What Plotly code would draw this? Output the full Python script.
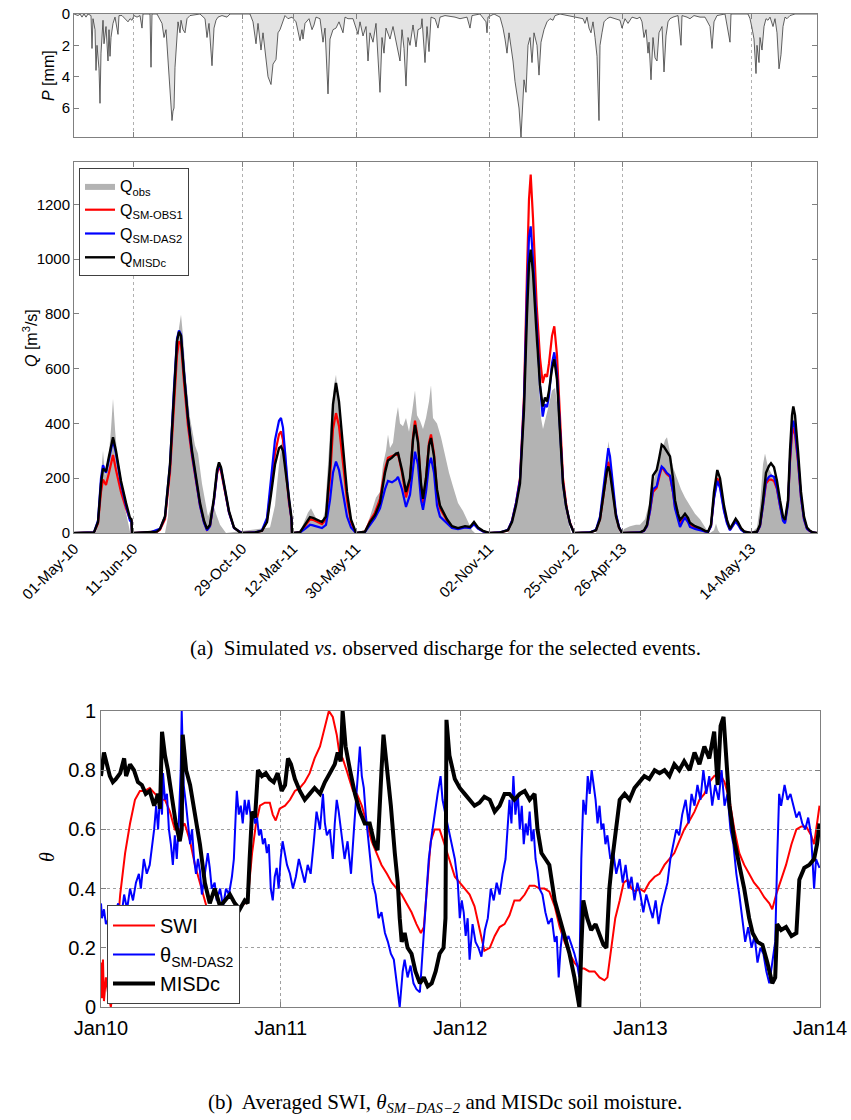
import plotly.graph_objects as go
import pandas as pd

# ---------------- Event axis (concatenated event time steps) ----------------
EVENT_STEP = [0, 59, 168, 219, 282, 415, 500, 548, 677]
EVENT_LABEL = ["01-May-10", "11-Jun-10", "29-Oct-10", "12-Mar-11", "30-May-11",
               "02-Nov-11", "25-Nov-12", "26-Apr-13", "14-May-13"]
N_STEP = 743

# ---------------- Precipitation [mm] ----------------
P_STEP = [0, 4, 6, 8, 10, 12, 14, 17, 18, 19, 21, 22, 23, 25, 26, 27, 29, 30, 32, 34, 35, 36, 37, 39, 41,
          44, 45, 48, 54, 56, 58, 60, 63, 66, 68, 69, 76, 77, 78, 83, 88, 90, 92, 94, 96, 98, 99, 100, 101,
          103, 104, 106, 107, 109, 111, 113, 116, 126, 131, 133, 135, 138, 140, 142, 144, 148, 153, 156, 176,
          179, 182, 184, 187, 189, 192, 194, 197, 199, 202, 204, 206, 209, 211, 214, 218, 222, 226, 228, 229,
          231, 235, 238, 240, 242, 246, 249, 251, 254, 256, 259, 262, 265, 269, 271, 274, 279, 282, 284, 286,
          289, 292, 294, 296, 299, 302, 304, 306, 308, 310, 312, 316, 319, 323, 326, 328, 330, 332, 334, 336,
          339, 342, 344, 347, 348, 351, 353, 355, 357, 361, 364, 366, 371, 381, 386, 393, 396, 398, 406, 412,
          413, 414, 420, 426, 429, 431, 433, 435, 437, 439, 441, 443, 445, 447, 448, 450, 452, 454, 456, 458,
          460, 463, 465, 467, 470, 473, 476, 479, 481, 486, 509, 511, 513, 515, 517, 519, 521, 523, 525, 526,
          528, 530, 533, 536, 546, 548, 551, 554, 558, 563, 566, 568, 570, 572, 574, 575, 577, 579, 581, 583,
          585, 588, 590, 592, 594, 596, 599, 604, 607, 608, 613, 616, 620, 626, 631, 636, 638, 640, 643, 651,
          656, 657, 674, 676, 678, 680, 682, 683, 685, 686, 688, 690, 692, 694, 696, 699, 701, 703, 705, 707,
          709, 711, 713, 716, 721, 743]
P_MM = [0, 0.1, 0, 0.2, 0, 0.2, 0, 0.1, 2.2, 0.3, 1.0, 3.6, 2.0, 3.5, 5.7, 2.5, 0.4, 1.9, 0.8, 3.0, 1.0, 2.7, 1.5, 0.6, 0.2,
        1.3, 0.1, 0.1, 0.5, 0.3, 0.4, 0.1, 0.2, 0.1, 0.9, 0, 0, 3.4, 0, 0, 0.6, 1.5, 1.0, 3.1, 5.1, 6.8, 6.2, 6.0, 3.4,
        1.5, 0.5, 1.2, 0.4, 1.0, 1.2, 0.3, 0.1, 0, 0.3, 1.5, 0.6, 3.3, 0.9, 0.4, 0.2, 0.1, 0.2, 0, 0,
        0.5, 1.9, 0.6, 2.3, 1.2, 3.0, 4.0, 4.5, 3.2, 2.9, 1.2, 1.0, 0.5, 0.1, 0.3, 0.2, 0.5, 1.7, 1.0, 1.6,
        0.6, 0.3, 1.0, 0.7, 0.2, 0.3, 1.8, 0.9, 5.1, 1.6, 1.0, 0.9, 0.5, 1.2, 0.2, 0.3, 0.3, 1.0, 1.3, 0.5,
        1.4, 0.8, 3.0, 1.2, 1.8, 0.6, 3.0, 5.0, 1.5, 2.5, 0.9, 1.6, 0.8, 2.0, 3.0, 1.0, 2.2, 4.6, 1.5, 2.0,
        0.7, 2.1, 1.0, 0.9, 0.3, 3.1, 0.8, 2.4, 0.2, 0.3, 0.9, 0.2, 0.1, 0.2, 0.3, 0.2, 0.9, 0.1, 0, 0.5,
        1.2, 0.2, 0, 0.2, 0.9, 1.6, 2.5, 1.2, 2.0, 3.0, 4.3, 5.3, 6.0, 7.85, 6.5, 4.2, 5.0, 2.0, 1.5, 3.1,
        1.2, 2.0, 3.9, 1.8, 1.0, 0.5, 0.3, 0.4, 0.1, 0, 0.3, 0.6, 0.2, 0.9, 1.2, 0.5, 1.5, 2.7, 6.8, 2.0,
        1.2, 0.5, 0.3, 0.2, 0.4, 0.9, 0.3, 0.6, 0.2, 0.3, 0.2, 0.5, 1.5, 1.0, 2.5, 1.8, 4.2, 1.5, 2.8, 3.0,
        1.2, 0.8, 3.7, 1.4, 0.5, 0.3, 0.2, 0.1, 2.0, 0.1, 0.2, 0.3, 0.1, 0.2, 0.2, 0.8, 2.2, 0.5, 0.1, 0,
        1.8, 0, 0, 0.3, 0.9, 1.6, 3.8, 2.0, 3.1, 1.5, 2.3, 0.8, 0.3, 0.4, 0.2, 0.8, 0.3, 1.2, 3.5, 2.6,
        0.8, 0.2, 0.3, 0.1, 0, 0]

# ---------------- Discharge [m3/s] ----------------
QOBS_STEP = [0, 22, 25, 27, 29, 31, 34, 37, 39, 41, 44, 47, 51, 54, 56, 57,
             91, 94, 98, 102, 105, 107, 109, 112, 116, 121, 124, 128, 132, 134, 137, 139, 142, 146, 152,
             196, 201, 205, 209, 212, 215, 217, 218,
             226, 230, 234, 237, 240, 244, 248, 251, 254, 257, 260, 262, 264, 267, 270, 273, 276, 279, 281,
             291, 296, 299, 302, 306, 309, 312, 314, 316, 319, 322, 324, 326, 329, 332, 335, 338, 341, 343,
             346, 349, 352, 355, 357, 359, 363, 367, 371, 375, 379, 384, 389, 394, 398, 401,
             434, 438, 442, 446, 450, 453, 455, 457, 459, 462, 465, 467, 469, 472, 475, 478, 481, 484, 487,
             490, 493, 495, 497,
             522, 526, 530, 533, 534.5, 536, 539, 542, 545, 546,
             548, 550, 556, 562, 566, 571, 576, 579, 583, 587, 591, 593, 596, 599, 603, 607, 611, 616, 621,
             626, 630, 634, 636, 640, 642, 644, 646,
             677, 683, 686, 689, 691, 694, 697, 700, 703, 706, 709, 711, 714, 716, 718, 719.5, 721, 724, 727,
             730, 733, 736, 743]
QOBS = [0, 0, 120, 200, 300, 210, 250, 380, 490, 380, 250, 160, 90, 40, 5, 0,
        0, 60, 300, 600, 750, 797, 720, 560, 420, 320, 290, 180, 100, 60, 90, 110, 70, 30, 0,
        20, 100, 250, 370, 300, 150, 40, 0,
        5, 40, 75, 90, 70, 40, 40, 80, 250, 420, 540, 578, 500, 380, 250, 130, 50, 10, 0,
        10, 60, 100, 130, 150, 250, 300, 360, 310, 330, 420, 460, 400, 390, 420, 370, 440, 520, 430,
        410, 380, 420, 480, 540, 420, 400, 350, 280, 220, 170, 110, 80, 40, 10, 0,
        0, 30, 90, 180, 450, 800, 960, 1000, 940, 700, 520, 420, 380, 420, 470, 520, 530, 450, 300,
        180, 80, 30, 0,
        0, 40, 160, 290, 335, 290, 150, 50, 5, 0,
        0, 15, 25, 30, 30, 50, 120, 180, 240, 290, 340, 350, 300, 240, 200, 160, 130, 100, 70,
        50, 25, 5, 0, 10, 35, 10, 0,
        0, 20, 100, 250, 290, 240, 220, 200, 170, 120, 60, 50, 140, 300, 400, 440, 400, 260, 120,
        40, 10, 0, 0]

Q_STEP = [0, 20, 24, 27, 29, 32, 35, 39, 42, 47, 52, 56, 57.5, 58, 59,
          76, 83, 86, 91, 96, 100, 103, 105, 107, 110, 114, 118, 122, 126, 130, 133, 136, 140, 143, 145,
          147, 151, 155, 160, 166, 168,
          181, 188, 193, 197, 201, 205, 207, 209, 212, 215, 217.5, 218, 219,
          226, 231, 236, 239, 244, 248, 252, 256, 259, 262, 265, 269, 273, 277, 280, 281, 282,
          291, 296, 301, 306, 311, 314, 318, 322, 324, 328, 332, 336, 339, 341, 344, 347, 349, 352, 355, 357,
          360, 363, 366, 369, 373, 378, 384, 391, 396, 400, 404, 409, 413, 415,
          426, 434, 438, 442, 446, 450, 453, 455, 456.7, 459, 462.7, 466, 468.7, 471, 473, 475, 478, 480.3,
          483, 486, 489, 492, 494, 496, 497.7, 499, 500,
          516, 522, 526, 530, 533, 534.3, 536, 539, 542, 545, 547, 548,
          566, 570, 573, 576, 579, 582.7, 585, 587.7, 590, 592.7, 596, 599, 601, 604, 606, 609, 611, 614,
          616, 621, 626, 631, 634, 637, 640, 643.3, 646, 650, 653, 656, 659, 661.7, 664, 667, 670, 674, 677,
          683, 686, 689, 692, 695, 697, 700, 703, 706, 709, 711, 714, 716, 718, 719.3, 721, 724, 727, 730,
          733, 736, 739, 743]
Q_MISDC = [0, 2, 40, 180, 235, 225, 280, 350, 300, 190, 110, 55, 50, 0, 0,
           2, 5, 15, 60, 250, 520, 700, 735, 720, 580, 420, 300, 200, 110, 45, 15, 30, 130, 230, 258,
           240, 160, 80, 20, 2, 0,
           2, 8, 40, 140, 250, 310, 316, 300, 210, 110, 55, 0, 0,
           3, 30, 58, 55, 45, 40, 60, 250, 470, 548, 480, 300, 150, 50, 15, 5, 0,
           5, 40, 65, 110, 220, 265, 275, 290, 292, 230, 150, 200, 340, 395, 330, 180, 125, 200, 320, 347,
           280, 160, 100, 80, 50, 25, 18, 25, 22, 40, 20, 8, 2, 0,
           2, 10, 40, 100, 180, 450, 800, 980, 1035, 950, 720, 540, 462, 495, 480, 520, 600, 634,
           560, 350, 180, 100, 60, 35, 20, 5, 0,
           2, 10, 50, 150, 230, 243, 220, 140, 60, 20, 3, 0,
           2, 10, 30, 100, 210, 230, 270, 322, 315, 300, 280, 200, 120, 70, 48, 60, 70, 55,
           37, 25, 18, 8, 5, 30, 150, 230, 200, 100, 48, 15, 35, 52, 40, 18, 6, 2, 0,
           5, 30, 120, 220, 245, 255, 240, 190, 120, 60, 48, 120, 300, 430, 462, 430, 300, 150, 60,
           20, 8, 2, 0]
Q_SMOBS1 = [0, 2, 35, 150, 195, 175, 220, 285, 230, 150, 90, 50, 45, 0, 0,
            2, 5, 12, 50, 220, 470, 650, 700, 690, 550, 390, 280, 185, 100, 40, 12, 25, 120, 215, 245,
            225, 150, 75, 18, 2, 0,
            2, 8, 45, 160, 290, 360, 371, 340, 230, 110, 50, 0, 0,
            3, 25, 50, 48, 38, 32, 50, 200, 380, 438, 390, 250, 120, 40, 10, 3, 0,
            5, 45, 75, 125, 235, 275, 280, 285, 290, 220, 130, 190, 350, 410, 340, 170, 110, 200, 330, 360,
            290, 150, 90, 70, 45, 22, 16, 22, 20, 35, 18, 6, 2, 0,
            2, 10, 45, 110, 200, 500, 950, 1220, 1309, 1150, 830, 640, 548, 580, 570, 620, 720, 755,
            650, 400, 200, 110, 65, 38, 22, 5, 0,
            2, 10, 50, 160, 245, 260, 235, 150, 65, 20, 3, 0,
            2, 8, 25, 80, 150, 165, 200, 240, 230, 215, 205, 150, 95, 55, 35, 50, 55, 45,
            30, 20, 15, 6, 4, 25, 130, 200, 175, 85, 40, 12, 30, 45, 35, 15, 5, 2, 0,
            4, 25, 100, 180, 195, 195, 190, 160, 100, 50, 40, 110, 260, 360, 385, 360, 260, 130, 50,
            15, 6, 2, 0]
Q_SMDAS2 = [0, 2, 45, 200, 248, 220, 270, 340, 290, 180, 100, 45, 40, 0, 0,
            2, 12, 15, 60, 250, 530, 710, 740, 725, 590, 420, 290, 190, 100, 38, 10, 25, 120, 220, 252,
            235, 155, 75, 18, 2, 0,
            2, 10, 55, 190, 340, 410, 420, 385, 260, 120, 50, 0, 0,
            2, 15, 30, 28, 22, 18, 30, 120, 220, 261, 230, 140, 60, 20, 6, 2, 0,
            4, 30, 55, 90, 160, 190, 185, 195, 205, 160, 95, 140, 250, 297, 250, 120, 85, 150, 250, 275,
            220, 100, 60, 50, 35, 18, 14, 20, 18, 32, 16, 6, 2, 0,
            2, 12, 45, 110, 195, 480, 880, 1080, 1120, 1000, 760, 540, 425, 470, 460, 500, 620, 660,
            580, 360, 180, 100, 60, 35, 20, 5, 0,
            2, 12, 60, 190, 290, 310, 280, 170, 70, 22, 3, 0,
            2, 8, 25, 80, 160, 170, 210, 243, 235, 220, 210, 150, 90, 50, 22, 45, 55, 40,
            22, 15, 10, 4, 3, 25, 125, 190, 165, 80, 35, 10, 28, 42, 30, 12, 4, 2, 0,
            4, 25, 100, 190, 205, 210, 205, 165, 100, 45, 35, 105, 270, 385, 410, 380, 270, 130, 50,
            15, 6, 2, 0]

# ---------------- Soil moisture (days since 2010-01-01) ----------------
START = "2010-01-01"
SWI_DAY = [0, 2, 4, 6, 10, 14, 20, 24, 30, 39, 49, 59, 69, 79, 89, 99, 110, 120, 130, 140, 150, 160, 170, 181,
           191, 201, 211, 221, 231, 242, 252, 262, 272, 282, 292, 298, 307, 315, 323, 333, 343, 349, 355, 363,
           374, 384, 394, 404, 414, 424, 434, 445, 455, 463, 471, 479, 485, 491, 499, 506, 512, 520, 530, 540,
           550, 560, 570, 581, 591, 601, 611, 621, 631, 641, 650, 656, 664, 670, 678, 688, 698, 708, 719, 729,
           739, 749, 759, 769, 779, 790, 800, 810, 820, 830, 840, 851, 861, 871, 881, 891, 901, 911, 922, 932,
           942, 952, 962, 972, 982, 992, 1003, 1013, 1023, 1029, 1037, 1045, 1054, 1062, 1070, 1078, 1086,
           1094, 1104, 1114, 1125, 1135, 1145, 1155, 1165, 1175, 1185, 1196, 1206, 1216, 1226, 1236, 1246,
           1257, 1267, 1277, 1287, 1297, 1307, 1317, 1327, 1337, 1348, 1358, 1364, 1372, 1382, 1392, 1403,
           1413, 1423, 1433, 1443, 1449, 1455, 1460]
SWI = [0.15, 0.03, 0.16, 0.02, 0.1, 0.05, 0.0, 0.05, 0.2, 0.38, 0.52, 0.62, 0.7, 0.73, 0.73, 0.74, 0.72, 0.7,
       0.7, 0.66, 0.6, 0.6, 0.62, 0.56, 0.48, 0.42, 0.36, 0.3, 0.3, 0.28, 0.3, 0.32, 0.33, 0.34, 0.35, 0.36,
       0.52, 0.62, 0.68, 0.69, 0.69, 0.65, 0.63, 0.67, 0.68, 0.7, 0.73, 0.74, 0.76, 0.79, 0.84, 0.88, 0.95,
       1.0, 0.98, 0.92, 0.85, 0.84, 0.8, 0.76, 0.73, 0.72, 0.68, 0.62, 0.56, 0.52, 0.48, 0.45, 0.42, 0.4,
       0.38, 0.35, 0.32, 0.28, 0.25, 0.27, 0.45, 0.56, 0.6, 0.6, 0.55, 0.5, 0.44, 0.42, 0.4, 0.38, 0.34,
       0.26, 0.19, 0.2, 0.24, 0.27, 0.28, 0.31, 0.36, 0.36, 0.38, 0.41, 0.41, 0.4, 0.4, 0.39, 0.34, 0.27,
       0.22, 0.18, 0.15, 0.13, 0.13, 0.12, 0.12, 0.1, 0.09, 0.1, 0.2, 0.3, 0.36, 0.42, 0.43, 0.4, 0.39,
       0.4, 0.39, 0.42, 0.44, 0.45, 0.48, 0.5, 0.52, 0.56, 0.6, 0.63, 0.66, 0.7, 0.72, 0.76, 0.78, 0.79,
       0.76, 0.7, 0.6, 0.52, 0.48, 0.45, 0.42, 0.4, 0.37, 0.35, 0.33, 0.38, 0.43, 0.48, 0.55, 0.6, 0.61,
       0.61, 0.58, 0.55, 0.62, 0.68]

DAS_DAY = [0, 2, 6, 10, 16, 22, 28, 35, 41, 47, 53, 59, 65, 71, 77, 81, 87, 93, 99, 104, 108, 112, 116, 120,
           124, 126, 130, 134, 138, 142, 146, 150, 154, 158, 162, 164, 168, 173, 177, 181, 185, 189, 193, 197,
           201, 205, 211, 217, 221, 225, 231, 235, 242, 248, 254, 260, 266, 270, 274, 276, 280, 284, 288, 292,
           296, 300, 305, 309, 313, 317, 321, 325, 329, 333, 337, 341, 345, 349, 353, 357, 361, 365, 369, 374,
           378, 384, 390, 396, 402, 408, 414, 420, 426, 432, 438, 445, 451, 455, 459, 465, 471, 475, 479, 483,
           487, 491, 495, 501, 508, 514, 520, 526, 530, 534, 538, 542, 546, 552, 558, 564, 570, 577, 583, 589,
           595, 601, 607, 613, 617, 623, 629, 635, 641, 648, 654, 660, 666, 672, 678, 684, 690, 694, 700, 706,
           713, 719, 725, 729, 733, 737, 741, 745, 749, 755, 761, 767, 773, 780, 786, 792, 798, 804, 810, 816,
           822, 826, 830, 834, 838, 842, 847, 851, 855, 859, 863, 867, 871, 875, 879, 883, 887, 891, 897, 903,
           909, 916, 922, 926, 930, 934, 938, 944, 950, 956, 962, 968, 972, 976, 980, 985, 989, 993, 997, 1001,
           1005, 1009, 1013, 1017, 1021, 1025, 1029, 1035, 1041, 1047, 1054, 1060, 1066, 1072, 1078, 1084,
           1090, 1096, 1102, 1108, 1114, 1121, 1127, 1133, 1139, 1145, 1151, 1157, 1163, 1169, 1175, 1181,
           1188, 1194, 1200, 1206, 1212, 1218, 1224, 1230, 1236, 1242, 1248, 1255, 1261, 1267, 1273, 1279,
           1285, 1291, 1297, 1303, 1309, 1315, 1322, 1328, 1334, 1340, 1346, 1352, 1358, 1364, 1370, 1374,
           1378, 1382, 1389, 1395, 1401, 1407, 1413, 1419, 1425, 1431, 1437, 1443, 1449, 1453, 1460]
THETA_DAS = [0.35, 0.3, 0.33, 0.28, 0.3, 0.27, 0.32, 0.35, 0.3, 0.38, 0.33, 0.4, 0.36, 0.42, 0.45, 0.4, 0.5,
             0.45, 0.48, 0.55, 0.6, 0.68, 0.6, 0.72, 0.65, 0.79, 0.7, 0.72, 0.6, 0.55, 0.48, 0.58, 0.5, 0.62,
             0.8, 1.0, 0.75, 0.68, 0.62, 0.55, 0.6, 0.5, 0.45, 0.5, 0.46, 0.38, 0.45, 0.52, 0.47, 0.4, 0.42,
             0.36, 0.4, 0.34, 0.4, 0.38, 0.44, 0.5, 0.66, 0.73, 0.65, 0.68, 0.62, 0.7, 0.65, 0.7, 0.63, 0.66,
             0.62, 0.64, 0.58, 0.6, 0.55, 0.57, 0.52, 0.55, 0.4, 0.36, 0.44, 0.47, 0.4, 0.5, 0.56, 0.52, 0.48,
             0.45, 0.4, 0.44, 0.5, 0.46, 0.42, 0.48, 0.45, 0.55, 0.66, 0.6, 0.72, 0.62, 0.58, 0.6, 0.5, 0.62,
             0.7, 0.66, 0.6, 0.55, 0.5, 0.56, 0.45, 0.6, 0.75, 0.88, 0.78, 0.74, 0.65, 0.58, 0.5, 0.42, 0.38,
             0.3, 0.32, 0.25, 0.22, 0.18, 0.16, 0.08, 0.0, 0.12, 0.16, 0.1, 0.14, 0.08, 0.06, 0.05, 0.2, 0.35,
             0.5, 0.58, 0.66, 0.72, 0.78, 0.7, 0.65, 0.6, 0.55, 0.5, 0.42, 0.3, 0.36, 0.32, 0.24, 0.3, 0.16,
             0.28, 0.22, 0.2, 0.17, 0.26, 0.3, 0.4, 0.36, 0.42, 0.38, 0.45, 0.5, 0.6, 0.7, 0.62, 0.78, 0.65,
             0.72, 0.6, 0.68, 0.55, 0.62, 0.58, 0.66, 0.56, 0.6, 0.5, 0.46, 0.4, 0.38, 0.32, 0.28, 0.3, 0.22,
             0.24, 0.1, 0.2, 0.26, 0.22, 0.24, 0.21, 0.18, 0.14, 0.1, 0.5, 0.7, 0.65, 0.78, 0.72, 0.8, 0.75,
             0.7, 0.62, 0.68, 0.6, 0.62, 0.55, 0.58, 0.5, 0.52, 0.45, 0.5, 0.42, 0.48, 0.4, 0.44, 0.36, 0.42,
             0.38, 0.32, 0.38, 0.34, 0.3, 0.36, 0.28, 0.34, 0.38, 0.42, 0.5, 0.55, 0.6, 0.58, 0.65, 0.7, 0.62,
             0.72, 0.68, 0.75, 0.7, 0.8, 0.72, 0.78, 0.68, 0.75, 0.7, 0.8, 0.68, 0.72, 0.6, 0.55, 0.45, 0.38,
             0.3, 0.22, 0.27, 0.2, 0.24, 0.15, 0.2, 0.18, 0.12, 0.08, 0.15, 0.22, 0.5, 0.72, 0.68, 0.75, 0.7,
             0.72, 0.68, 0.64, 0.66, 0.62, 0.6, 0.64, 0.58, 0.4, 0.5, 0.47]

MIS_DAY = [0, 2, 6, 12, 18, 24, 30, 39, 47, 51, 59, 67, 75, 83, 91, 99, 108, 116, 120, 124, 130, 136, 144, 152,
           160, 164, 166, 173, 181, 191, 201, 211, 221, 231, 242, 252, 262, 272, 282, 292, 298, 302, 307, 313,
           319, 327, 335, 343, 351, 359, 367, 374, 380, 386, 394, 404, 414, 424, 434, 445, 455, 465, 475, 481,
           487, 491, 497, 506, 516, 526, 536, 546, 556, 562, 566, 570, 574, 581, 589, 597, 603, 607, 611, 617,
           623, 631, 639, 648, 656, 664, 672, 680, 688, 696, 700, 702, 708, 719, 729, 739, 749, 759, 769, 779,
           790, 800, 810, 820, 830, 840, 851, 861, 871, 881, 887, 895, 903, 911, 922, 932, 942, 952, 962, 972,
           976, 980, 988, 996, 1005, 1013, 1021, 1027, 1033, 1039, 1047, 1054, 1064, 1074, 1084, 1094, 1104,
           1114, 1125, 1135, 1145, 1155, 1165, 1175, 1185, 1196, 1206, 1216, 1226, 1236, 1246, 1253, 1259, 1265,
           1271, 1277, 1287, 1297, 1307, 1317, 1324, 1334, 1344, 1354, 1364, 1370, 1374, 1382, 1392, 1403, 1413,
           1419, 1429, 1439, 1449, 1455, 1460]
MISDC = [0.78, 0.8, 0.86, 0.82, 0.78, 0.76, 0.77, 0.79, 0.84, 0.78, 0.82, 0.8, 0.76, 0.75, 0.72, 0.73, 0.68,
         0.72, 0.67, 0.93, 0.85, 0.8, 0.7, 0.62, 0.56, 0.6, 0.92, 0.8, 0.75, 0.65, 0.55, 0.42, 0.35, 0.4, 0.34,
         0.36, 0.38, 0.35, 0.33, 0.36, 0.35, 0.5, 0.66, 0.64, 0.8, 0.78, 0.79, 0.77, 0.76, 0.79, 0.73, 0.75,
         0.84, 0.82, 0.77, 0.73, 0.7, 0.72, 0.74, 0.72, 0.76, 0.79, 0.82, 0.86, 0.83, 1.0, 0.88, 0.8, 0.72,
         0.66, 0.62, 0.62, 0.55, 0.53, 0.7, 0.8, 0.92, 0.82, 0.68, 0.52, 0.42, 0.3, 0.22, 0.25, 0.2, 0.18, 0.12,
         0.08, 0.1, 0.07, 0.08, 0.12, 0.18, 0.2, 0.3, 0.97, 0.85, 0.77, 0.74, 0.72, 0.7, 0.68, 0.69, 0.71,
         0.7, 0.66, 0.68, 0.72, 0.72, 0.7, 0.72, 0.73, 0.7, 0.72, 0.6, 0.52, 0.5, 0.48, 0.36, 0.3, 0.24, 0.18,
         0.1, 0.0, 0.2, 0.36, 0.3, 0.26, 0.28, 0.24, 0.21, 0.2, 0.4, 0.5, 0.6, 0.7, 0.72, 0.7, 0.74, 0.76,
         0.78, 0.77, 0.8, 0.79, 0.8, 0.78, 0.82, 0.8, 0.83, 0.8, 0.86, 0.82, 0.88, 0.84, 0.93, 0.75, 0.95,
         0.98, 0.82, 0.68, 0.56, 0.48, 0.4, 0.3, 0.25, 0.22, 0.21, 0.15, 0.08, 0.1, 0.28, 0.26, 0.27, 0.24,
         0.25, 0.43, 0.47, 0.48, 0.5, 0.55, 0.62]

YEAR_TICKS = ["2010-01-01", "2011-01-01", "2012-01-01", "2013-01-01", "2014-01-01"]
YEAR_LABELS = ["Jan10", "Jan11", "Jan12", "Jan13", "Jan14"]


def to_dates(days):
    return pd.to_datetime(START) + pd.to_timedelta(days, unit="D")


SANS = "Liberation Sans, Arial, Helvetica, sans-serif"
SERIF = "Liberation Serif, Times New Roman, serif"
AX = "#808080"

fig = go.Figure()

# precipitation (top)
fig.add_trace(go.Scatter(x=P_STEP, y=P_MM, mode="lines", fill="tozeroy", fillcolor="#e3e3e3",
                         line=dict(color="#3a3a3a", width=0.8), showlegend=False,
                         xaxis="x", yaxis="y"))

# discharge (middle)
fig.add_trace(go.Scatter(x=QOBS_STEP, y=QOBS, mode="lines", fill="tozeroy", fillcolor="#b3b3b3",
                         line=dict(color="#b3b3b3", width=0), name="Q<sub>obs</sub>",
                         xaxis="x2", yaxis="y2", legend="legend"))
fig.add_trace(go.Scatter(x=Q_STEP, y=Q_SMOBS1, mode="lines", line=dict(color="#ff0000", width=2.2),
                         name="Q<sub>SM-OBS1</sub>", xaxis="x2", yaxis="y2", legend="legend"))
fig.add_trace(go.Scatter(x=Q_STEP, y=Q_SMDAS2, mode="lines", line=dict(color="#0000ff", width=2.2),
                         name="Q<sub>SM-DAS2</sub>", xaxis="x2", yaxis="y2", legend="legend"))
fig.add_trace(go.Scatter(x=Q_STEP, y=Q_MISDC, mode="lines", line=dict(color="#000000", width=2.4),
                         name="Q<sub>MISDc</sub>", xaxis="x2", yaxis="y2", legend="legend"))

# soil moisture (bottom)
fig.add_trace(go.Scatter(x=to_dates(SWI_DAY), y=SWI, mode="lines", line=dict(color="#ff0000", width=2),
                         name="SWI", xaxis="x3", yaxis="y3", legend="legend2"))
fig.add_trace(go.Scatter(x=to_dates(DAS_DAY), y=THETA_DAS, mode="lines", line=dict(color="#0000ff", width=2),
                         name="θ<sub>SM-DAS2</sub>", xaxis="x3", yaxis="y3", legend="legend2"))
fig.add_trace(go.Scatter(x=to_dates(MIS_DAY), y=MISDC, mode="lines", line=dict(color="#000000", width=4),
                         name="MISDc", xaxis="x3", yaxis="y3", legend="legend2"))

W, H = 851, 1120


def xd(a, b):
    return [a / W, b / W]


def yd(top, bottom):
    return [1 - bottom / H, 1 - top / H]


common_ax = dict(showline=True, linecolor=AX, linewidth=1, mirror="ticks", ticks="inside",
                 tickcolor=AX, ticklen=5, zeroline=False, automargin=False,
                 tickfont=dict(family=SANS, size=15, color="#000"))
big_ax = {**common_ax, "tickfont": dict(family=SANS, size=20, color="#000")}

fig.update_layout(
    width=W, height=H, margin=dict(l=0, r=0, t=0, b=0, autoexpand=False),
    paper_bgcolor="white", plot_bgcolor="white",
    font=dict(family=SANS, color="#000"),
    xaxis=dict(domain=xd(74, 817), anchor="y", range=[0, N_STEP], tickvals=EVENT_STEP,
               showticklabels=False, showgrid=True, gridcolor="#b0b0b0", griddash="dot", gridwidth=1,
               **common_ax),
    yaxis=dict(domain=yd(14, 137), anchor="x", range=[7.85, 0], tickvals=[0, 2, 4, 6],
               showgrid=False, **common_ax),
    xaxis2=dict(domain=xd(74, 817), anchor="y2", range=[0, N_STEP], tickvals=EVENT_STEP,
                ticktext=EVENT_LABEL, tickangle=-45, showgrid=True, gridcolor="#b0b0b0",
                griddash="dot", gridwidth=1, **common_ax),
    yaxis2=dict(domain=yd(162, 533), anchor="x2", range=[0, 1355],
                tickvals=[0, 200, 400, 600, 800, 1000, 1200], showgrid=False, **common_ax),
    xaxis3=dict(domain=xd(101, 820), anchor="y3", type="date",
                range=[YEAR_TICKS[0], YEAR_TICKS[-1]], tickvals=YEAR_TICKS, ticktext=YEAR_LABELS,
                showgrid=True, gridcolor="#a0a0a0", griddash="dot", gridwidth=1,
                ticklabelstandoff=3, **big_ax),
    yaxis3=dict(domain=yd(711, 1007), anchor="x3", range=[0, 1], tickvals=[0, 0.2, 0.4, 0.6, 0.8, 1],
                ticktext=["0", "0.2", "0.4", "0.6", "0.8", "1"],
                showgrid=True, gridcolor="#a0a0a0", griddash="dot", gridwidth=1, **big_ax),
    legend=dict(x=79 / W, y=1 - 168 / H, xanchor="left", yanchor="top", bgcolor="white",
                bordercolor="#404040", borderwidth=1, font=dict(family=SANS, size=16),
                tracegroupgap=0, itemwidth=30),
    legend2=dict(x=107 / W, y=1 - 905 / H, xanchor="left", yanchor="top", bgcolor="white",
                 bordercolor="#404040", borderwidth=1, font=dict(family=SANS, size=20),
                 tracegroupgap=0, itemwidth=42),
    annotations=[
        dict(text="<i>P</i> [mm]", x=49 / W, y=1 - 76 / H, xref="paper", yref="paper",
             showarrow=False, textangle=-90, xanchor="center", yanchor="middle",
             font=dict(family=SANS, size=16, color="#000")),
        dict(text="<i>Q</i> [m<sup>3</sup>/s]", x=30 / W, y=1 - 338 / H, xref="paper", yref="paper",
             showarrow=False, textangle=-90, xanchor="center", yanchor="middle",
             font=dict(family=SANS, size=16, color="#000")),
        dict(text="<i>θ</i>", x=47 / W, y=1 - 857 / H, xref="paper", yref="paper",
             showarrow=False, textangle=-90, xanchor="center", yanchor="middle",
             font=dict(family=SERIF, size=20, color="#000")),
        dict(text="(a)  Simulated <i>vs</i>. observed discharge for the selected events.",
             x=445 / W, y=1 - 648 / H, xref="paper", yref="paper", showarrow=False,
             xanchor="center", yanchor="middle", font=dict(family=SERIF, size=21, color="#000")),
        dict(text="(b)  Averaged SWI, <i>θ<sub>SM−DAS−2</sub></i> and MISDc soil moisture.",
             x=445 / W, y=1 - 1103 / H, xref="paper", yref="paper", showarrow=False,
             xanchor="center", yanchor="middle", font=dict(family=SERIF, size=21, color="#000")),
    ],
)

fig.write_html("out.html")
